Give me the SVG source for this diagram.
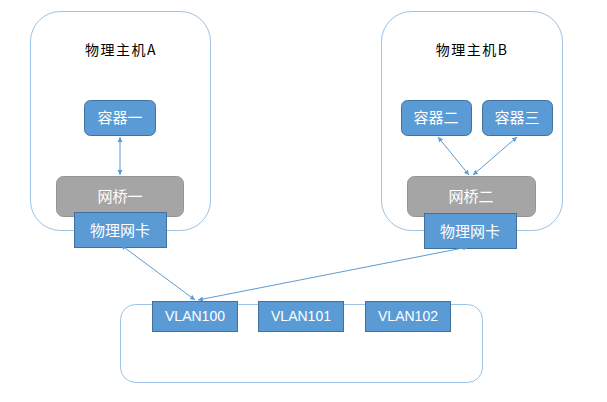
<svg xmlns="http://www.w3.org/2000/svg" width="607" height="402" viewBox="0 0 607 402">
<defs>
<marker id="ah" markerWidth="6" markerHeight="6" refX="5" refY="3" orient="auto-start-reverse" markerUnits="userSpaceOnUse">
<path d="M0,0.5 L5,3 L0,5.5 Z" fill="#5B9BD5"/>
</marker>
<style>
.host{fill:#fff;stroke:#9DC3E6;stroke-width:1}
.title{font-family:"Noto Sans CJK SC","Liberation Sans",sans-serif;font-size:14px;fill:#000;text-anchor:middle;letter-spacing:1.5px}
.blue{fill:#5B9BD5;stroke:#41719C;stroke-width:1}
.gray{fill:#A5A5A5;stroke:#939393;stroke-width:1}
.lbl{font-family:"Noto Sans CJK SC","Liberation Sans",sans-serif;font-size:15px;fill:#fff;text-anchor:middle}
.vl{font-family:"Liberation Sans","Noto Sans",sans-serif;font-size:14px;fill:#fff;text-anchor:middle}
.conn{stroke:#5B9BD5;stroke-width:1;fill:none;marker-start:url(#ah);marker-end:url(#ah)}
</style>
</defs>
<rect width="607" height="402" fill="#fff"/>
<g id="hostA">
<rect class="host" x="30.5" y="11.5" width="180" height="219" rx="30"/>
<text class="title" x="121" y="55">物理主机A</text>
</g>
<g id="hostB">
<rect class="host" x="381.5" y="11.5" width="181" height="219" rx="30"/>
<text class="title" x="472" y="55">物理主机B</text>
</g>
<g id="switch">
<rect class="host" x="120.5" y="304.5" width="362" height="78" rx="15"/>
</g>
<g id="c1">
<rect class="blue" x="84.5" y="100.5" width="71" height="35" rx="6"/>
<text class="lbl" x="120" y="123">容器一</text>
</g>
<g id="br1">
<rect class="gray" x="56.5" y="176.5" width="127" height="40" rx="7"/>
<text class="lbl" x="120" y="202">网桥一</text>
</g>
<g id="nicA">
<rect class="blue" x="74.5" y="212.5" width="92" height="35"/>
<text class="lbl" x="120" y="236">物理网卡</text>
</g>
<g id="c2">
<rect class="blue" x="401.5" y="100.5" width="70" height="35" rx="6"/>
<text class="lbl" x="436" y="123">容器二</text>
</g>
<g id="c3">
<rect class="blue" x="482.5" y="100.5" width="70" height="35" rx="6"/>
<text class="lbl" x="517" y="123">容器三</text>
</g>
<g id="br2">
<rect class="gray" x="407.5" y="176.5" width="128" height="40" rx="7"/>
<text class="lbl" x="471" y="202">网桥二</text>
</g>
<g id="nicB">
<rect class="blue" x="424.5" y="213.5" width="92" height="35"/>
<text class="lbl" x="470" y="237">物理网卡</text>
</g>
<g id="v100">
<rect class="blue" x="152.5" y="301.5" width="85" height="30"/>
<text class="vl" x="195" y="321">VLAN100</text>
</g>
<g id="v101">
<rect class="blue" x="258.5" y="301.5" width="85" height="30"/>
<text class="vl" x="301" y="321">VLAN101</text>
</g>
<g id="v102">
<rect class="blue" x="365.5" y="301.5" width="85" height="30"/>
<text class="vl" x="408" y="321">VLAN102</text>
</g>
<g id="connectors">
<line class="conn" x1="120" y1="137" x2="120" y2="175"/>
<line class="conn" x1="438" y1="137" x2="469" y2="175"/>
<line class="conn" x1="517" y1="137" x2="473" y2="175"/>
<line class="conn" x1="121" y1="245" x2="195" y2="300"/>
<line class="conn" x1="198" y1="300" x2="468" y2="247"/>
</g>
</svg>
